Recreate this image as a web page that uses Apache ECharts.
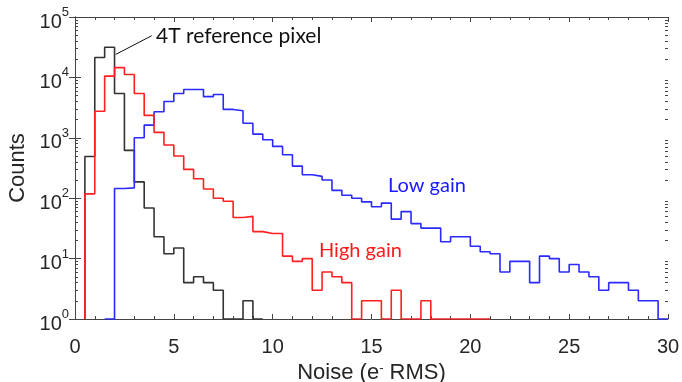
<!DOCTYPE html>
<html>
<head>
<meta charset="utf-8">
<title>Noise histogram</title>
<script src="https://cdn.jsdelivr.net/npm/echarts@6/dist/echarts.min.js"></script>
<style>
  html, body { margin: 0; padding: 0; background: #fff; }
  #main { width: 682px; height: 382px; }
</style>
</head>
<body>
<div id="main"></div>
<script>
// histogram bins are 0.5 e- wide; each series starts at its first drawn bin edge
var binWidth = 0.5;

var blackStart = 0.5;
var blackCounts = [490, 21400, 31600, 5400, 620, 186, 69, 23, 12, 15, 4, 5, 4, 3, 1, 1, 2, 1];

var redStart = 0.5;
var redCounts = [118, 2750, 10500, 14500, 11200, 5400, 2350, 1230, 760, 500, 300, 210, 142, 100, 89,
  48, 50, 28, 26, 26, 11, 9, 10, 3, 6, 5, 4, 1, 2, 2, 1, 3, 1, 1, 2, 1, 1, 1, 1, 1, 1];

var blueStart = 1.5;
var blueCounts = [1, 145, 148, 1000, 1620, 2700, 4000, 5400, 6300, 6300, 4800, 5200, 2950, 2800, 1740,
  1150, 930, 720, 525, 340, 245, 230, 200, 135, 112, 100, 87, 72, 83, 45, 60, 38, 32, 32, 19, 23, 23,
  16, 13, 12, 6, 9, 9, 4, 11, 10, 6, 8, 6, 5, 3, 4, 4, 3, 2, 2, 1];

var xTicks = [0, 5, 10, 15, 20, 25, 30];
var yDecades = [1, 10, 100, 1000, 10000, 100000];

// turn bin counts into step points: rise from the baseline, one point per bin edge, drop back
function stepPoints(start, counts) {
  var pts = [[start, 1]];
  for (var i = 0; i < counts.length; i++) {
    pts.push([start + i * binWidth, counts[i]]);
  }
  pts.push([start + counts.length * binWidth, 1]);
  return pts;
}

// 2..9 ticks inside every decade
var minorVals = [];
for (var d = 0; d < yDecades.length - 1; d++) {
  for (var k = 2; k <= 9; k++) minorVals.push(k * yDecades[d]);
}

var axisColor = '#444';
var textColor = '#262626';
var sans = '"Liberation Sans"';

var myChart = echarts.init(document.getElementById('main'));

function stepSeries(name, color, start, counts) {
  return {
    name: name,
    type: 'line',
    step: 'end',
    showSymbol: false,
    animation: false,
    lineStyle: { color: color, width: 1.6 },
    data: stepPoints(start, counts)
  };
}

var black = stepSeries('4T reference pixel', '#333333', blackStart, blackCounts);
// leader line from the text to the black peak
black.markLine = {
  silent: true,
  symbol: ['none', 'none'],
  label: { show: false },
  lineStyle: { color: '#111', width: 1, type: 'solid' },
  data: [[{ coord: [2.06, 24000] }, { coord: [3.88, 49000] }]]
};

myChart.setOption({
  animation: false,
  // keep the plot box fixed, labels may sit close to the edge
  grid: { left: 75, right: 14, top: 17, bottom: 63, outerBoundsMode: 'none', containLabel: false },
  xAxis: [{
    type: 'value',
    min: xTicks[0],
    max: xTicks[xTicks.length - 1],
    interval: 5,
    axisLine: { onZero: false, lineStyle: { color: axisColor, width: 1 } },
    axisTick: { inside: true, length: 5, lineStyle: { color: axisColor } },
    minorTick: { show: true, splitNumber: 5, length: 3, lineStyle: { color: axisColor } },
    splitLine: { show: false },
    axisLabel: { fontFamily: sans, fontSize: 20, color: textColor, margin: 18 },
    name: '{t|Noise (e}{s|-}{t| RMS)}',
    nameLocation: 'middle',
    nameGap: 41,
    nameTextStyle: {
      fontFamily: sans, fontSize: 22, color: textColor,
      rich: {
        t: { fontFamily: sans, fontSize: 22, color: textColor },
        s: { fontFamily: sans, fontSize: 13, color: textColor, verticalAlign: 'top', lineHeight: 22 }
      }
    }
  }, {
    type: 'value',
    position: 'top',
    min: xTicks[0],
    max: xTicks[xTicks.length - 1],
    interval: 5,
    axisLine: { onZero: false, lineStyle: { color: axisColor, width: 1 } },
    axisTick: { inside: true, length: 5, lineStyle: { color: axisColor } },
    minorTick: { show: true, splitNumber: 5, length: 3, lineStyle: { color: axisColor } },
    splitLine: { show: false },
    axisLabel: { show: false }
  }],
  yAxis: [{
    type: 'log',
    logBase: 10,
    min: yDecades[0],
    max: yDecades[yDecades.length - 1],
    axisLine: { show: true, lineStyle: { color: axisColor, width: 1 } },
    axisTick: { show: true, inside: true, length: 6, lineStyle: { color: axisColor } },
    splitLine: { show: false },
    axisLabel: {
      margin: 6,
      formatter: function (v) {
        return '{b|10}{s|' + Math.round(Math.log10(v)) + '}';
      },
      rich: {
        b: { fontFamily: sans, fontSize: 20, color: textColor, lineHeight: 22, padding: [10, 0, 0, 0] },
        s: { fontFamily: sans, fontSize: 13, color: textColor, verticalAlign: 'top', lineHeight: 14 }
      }
    },
    name: 'Counts',
    nameLocation: 'middle',
    nameGap: 46,
    nameTextStyle: { fontFamily: sans, fontSize: 22, color: textColor }
  }, {
    type: 'log',
    logBase: 10,
    position: 'right',
    min: yDecades[0],
    max: yDecades[yDecades.length - 1],
    axisLine: { show: true, lineStyle: { color: axisColor, width: 1 } },
    axisTick: { show: true, inside: true, length: 6, lineStyle: { color: axisColor } },
    splitLine: { show: false },
    axisLabel: { show: false }
  }, {
    // minor log ticks, left side
    type: 'log',
    logBase: 10,
    position: 'left',
    min: yDecades[0],
    max: yDecades[yDecades.length - 1],
    axisLine: { show: false },
    axisTick: { show: true, inside: true, length: 3, customValues: minorVals, lineStyle: { color: axisColor } },
    splitLine: { show: false },
    axisLabel: { show: false }
  }, {
    // minor log ticks, right side
    type: 'log',
    logBase: 10,
    position: 'right',
    min: yDecades[0],
    max: yDecades[yDecades.length - 1],
    axisLine: { show: false },
    axisTick: { show: true, inside: true, length: 3, customValues: minorVals, lineStyle: { color: axisColor } },
    splitLine: { show: false },
    axisLabel: { show: false }
  }],
  series: [
    black,
    stepSeries('Low gain', '#2a2aff', blueStart, blueCounts),
    stepSeries('High gain', '#ff2020', redStart, redCounts)
  ],
  graphic: [
    { type: 'text', left: 156, top: 26, style: { text: '4T reference pixel', fontFamily: 'Lato', fontSize: 21, fill: '#111' } },
    { type: 'text', left: 388, top: 176, style: { text: 'Low gain', fontFamily: 'Lato', fontSize: 20, fill: '#1a1aff' } },
    { type: 'text', left: 319, top: 241, style: { text: 'High gain', fontFamily: 'Lato', fontSize: 20, fill: '#ff1a1a' } }
  ]
});
</script>
</body>
</html>
